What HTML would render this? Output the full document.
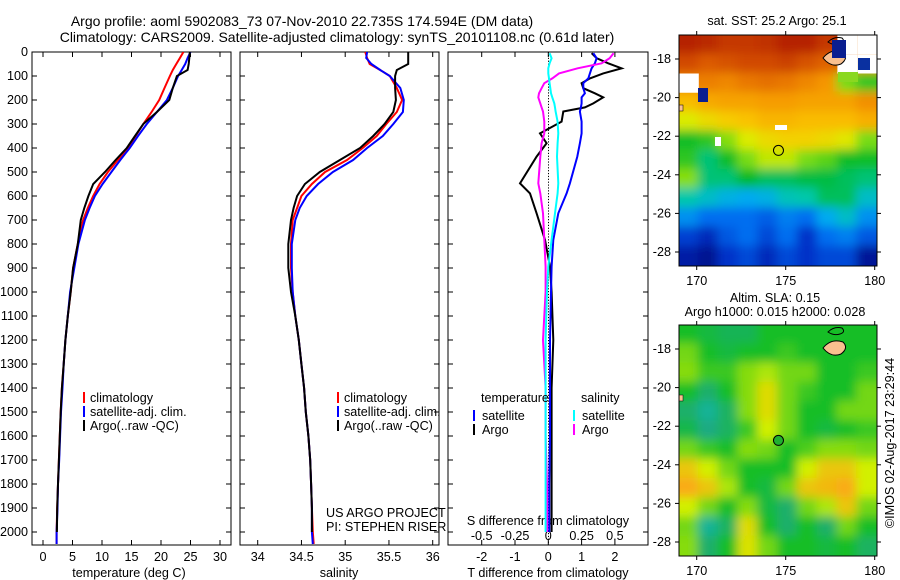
<!DOCTYPE html>
<html><head><meta charset="utf-8"><style>
html,body{margin:0;padding:0;background:#fff}
svg{display:block;font-family:"Liberation Sans",sans-serif;font-size:12.6px}
</style></head><body>
<svg id="chart" width="900" height="580" viewBox="0 0 900 580">
<defs>
<filter id="blur1" x="-0.1" y="-0.1" width="1.2" height="1.2"><feGaussianBlur stdDeviation="5"/></filter>
<clipPath id="clipM1"><rect x="679" y="35" width="198" height="231"/></clipPath>
<clipPath id="clipM2"><rect x="679" y="325" width="198" height="231"/></clipPath>
<clipPath id="clipP1"><rect x="32" y="52" width="199" height="493"/></clipPath>
<clipPath id="clipP2"><rect x="240" y="52" width="199" height="493"/></clipPath>
<clipPath id="clipP3"><rect x="448" y="52" width="200" height="493"/></clipPath>
</defs>
<text x="302" y="26" text-anchor="middle" style="font-size:14px">Argo profile: aoml 5902083_73 07-Nov-2010 22.735S 174.594E (DM data)</text>
<text x="337" y="42" text-anchor="middle" style="font-size:14px">Climatology: CARS2009. Satellite-adjusted climatology: synTS_20101108.nc (0.61d later)</text>
<g id="g"></g>
</svg>
<script>
// ---------- data ----------
const depthT = [0,25,50,75,100,150,200,250,300,350,400,450,500,550,600,650,700,800,900,1000,1100,1200,1300,1400,1500,1600,1700,1800,1900,2000,2050];
const tClim = [23.8,23.2,22.6,22.0,21.5,20.6,19.7,18.4,17.0,15.7,14.4,12.7,11.0,9.6,8.5,7.6,6.8,5.9,5.1,4.7,4.2,3.8,3.5,3.2,3.0,2.85,2.7,2.55,2.4,2.3,2.3];
const tSat = [25.0,24.5,24.1,23.5,22.9,22.0,21.0,19.3,17.6,16.1,14.7,13.1,11.6,10.1,8.8,7.9,7.1,6.0,5.3,4.6,4.2,3.8,3.5,3.3,3.05,2.9,2.75,2.55,2.45,2.3,2.3];
const tArgo = [24.9,24.8,24.7,24.5,22.7,22.0,21.4,19.3,17.0,15.6,14.2,12.3,10.5,8.5,7.7,7.0,6.4,5.9,5.1,4.7,4.2,3.8,3.5,3.2,3.0,2.85,2.7,2.55,2.4,2.35];
const sClim = [35.23,35.25,35.28,35.40,35.51,35.59,35.65,35.59,35.47,35.36,35.20,35.02,34.77,34.62,34.50,34.45,34.40,34.38,34.38,34.40,34.43,34.47,34.50,34.53,34.55,34.58,34.60,34.61,34.62,34.63,34.64];
const sSat = [35.25,35.24,35.30,35.40,35.51,35.63,35.67,35.66,35.55,35.43,35.25,35.09,34.86,34.69,34.56,34.48,34.43,34.39,34.39,34.40,34.43,34.47,34.50,34.53,34.55,34.58,34.60,34.61,34.62,34.62,34.63];
const sArgo = [35.72,35.72,35.72,35.59,35.57,35.57,35.58,35.55,35.45,35.32,35.17,34.94,34.71,34.54,34.45,34.41,34.38,34.35,34.35,34.38,34.43,34.47,34.50,34.53,34.55,34.58,34.60,34.61,34.62,34.62];
const depthD = [5,26,47,68,89,110,130,151,172,189,214,231,248,290,339,380,436,547,589,672,783,894,1000,1200,1400,1600,1800,2000];
const tdArgo = [1.30,1.45,1.80,2.20,1.65,1.25,1.00,1.05,1.40,1.65,1.35,1.10,0.45,0.40,-0.25,-0.05,-0.35,-0.85,-0.55,-0.35,-0.10,0.05,0.1,0.15,0.1,0.1,0.1,0.1];
const tdSat = [1.35,1.45,1.4,1.3,1.25,1.2,1.05,1.05,1.1,1.0,1.0,0.98,0.95,1.0,1.0,0.95,0.87,0.65,0.55,0.3,0.15,0.1,0.08,0.05,0.05,0.05,0.03,0.03];
const sdArgo = [0.49,0.46,0.40,0.22,0.08,0.03,-0.03,-0.05,-0.07,-0.075,-0.06,-0.05,-0.04,-0.03,-0.03,-0.05,-0.06,-0.075,-0.06,-0.04,-0.03,-0.02,-0.02,-0.04,-0.02,-0.02,-0.01,-0.01];
const sdSat = [0.01,0.025,0.01,0.0,0.0,0.005,0.01,0.015,0.02,0.03,0.045,0.05,0.055,0.07,0.075,0.07,0.065,0.075,0.07,0.05,0.025,0.0,-0.01,-0.02,-0.02,-0.02,-0.02,-0.02];
const depthTicks = [0,100,200,300,400,500,600,700,800,900,1000,1100,1200,1300,1400,1500,1600,1700,1800,1900,2000];
const tTicks = [0,5,10,15,20,25,30];
const sTicks = [34,34.5,35,35.5,36];
const tdTicks = [-2,-1,0,1,2];
const sdTicks = [-0.5,-0.25,0,0.25,0.5];
const sdTickLabels = ["-0.5","-0.25","0","0.25","0.5"];
const lonTicks = [170,175,180];
const latTicks = [-18,-20,-22,-24,-26,-28];
// SST field (0..1), rows lat -17..-28, cols lon 169.5..179.5; -1 = missing
const sstGrid = [
[0.93,0.92,0.9,0.9,0.91,0.93,0.93,0.9,-1,-1],
[0.88,0.86,0.87,0.88,0.88,0.89,0.87,0.85,-1,-1],
[-1,0.81,0.8,0.82,0.83,0.82,0.8,0.78,0.55,0.5],
[0.72,0.75,0.76,0.76,0.77,0.77,0.76,0.76,0.76,0.79],
[0.62,0.66,0.69,0.71,0.73,0.73,0.72,0.72,0.72,0.74],
[0.48,0.5,0.56,0.62,0.66,0.68,0.68,0.66,0.63,0.55],
[0.5,0.44,0.48,0.55,0.6,0.6,0.55,0.53,0.48,0.48],
[0.56,0.44,0.44,0.47,0.45,0.45,0.46,0.46,0.45,0.44],
[0.42,0.4,0.38,0.37,0.38,0.41,0.42,0.45,0.45,0.4],
[0.34,0.3,0.3,0.3,0.28,0.32,0.3,0.37,0.4,0.34],
[0.24,0.2,0.27,0.3,0.25,0.3,0.22,0.3,0.32,0.27],
[0.17,0.14,0.22,0.25,0.2,0.25,0.22,0.25,0.25,0.15]];
const slaGrid = [
[0.5,0.48,0.46,0.46,0.5,0.5,0.5,0.5,0.5,0.5],
[0.55,0.5,0.48,0.5,0.5,0.52,0.5,0.5,0.5,0.5],
[0.56,0.52,0.52,0.56,0.58,0.55,0.55,0.5,0.5,0.52],
[0.5,0.44,0.5,0.56,0.63,0.55,0.52,0.5,0.5,0.55],
[0.44,0.4,0.45,0.56,0.63,0.55,0.5,0.5,0.55,0.55],
[0.47,0.42,0.45,0.52,0.6,0.55,0.5,0.48,0.5,0.52],
[0.55,0.52,0.5,0.56,0.55,0.5,0.53,0.56,0.56,0.55],
[0.66,0.6,0.55,0.5,0.5,0.5,0.6,0.66,0.66,0.6],
[0.71,0.66,0.58,0.5,0.48,0.55,0.66,0.68,0.73,0.6],
[0.6,0.55,0.5,0.56,0.48,0.44,0.55,0.58,0.66,0.55],
[0.55,0.4,0.45,0.63,0.5,0.44,0.5,0.44,0.55,0.5],
[0.56,0.44,0.5,0.62,0.55,0.5,0.5,0.48,0.5,0.45]];

// ---------- helpers ----------
const NS="http://www.w3.org/2000/svg";
const G=document.getElementById('g');
function el(tag,attrs,parent){const e=document.createElementNS(NS,tag);for(const k in attrs)e.setAttribute(k,attrs[k]);(parent||G).appendChild(e);return e;}
const yD = d => 52 + d*0.24;
const xT = v => 43 + v*5.9;
const xS = v => 257.7 + (v-34)*87.5;
const xTD = v => 548.3 + v*33.3;
const xSD = v => 548.3 + v*133.2;

function panel(x0,x1,name){
  const r=el('rect',{x:x0,y:52,width:x1-x0,height:493,fill:'none',stroke:'#000','stroke-width':1});
  
  
  depthTicks.forEach(d=>{
    el('line',{x1:x0,x2:x0+5,y1:yD(d),y2:yD(d),stroke:'#000'});
    el('line',{x1:x1-5,x2:x1,y1:yD(d),y2:yD(d),stroke:'#000'});
  });
}
function line(xs,ys,xf,color,clip,name){
  let pts=[];for(let i=0;i<xs.length;i++)pts.push(xf(xs[i]).toFixed(1)+','+yD(ys[i]).toFixed(1));
  const p=el('polyline',{points:pts.join(' '),fill:'none',stroke:color,'stroke-width':2,'clip-path':'url(#'+clip+')'});
  
  
}
function txt(x,y,s,anchor,name,extra){
  const t=el('text',Object.assign({x:x,y:y,'text-anchor':anchor||'start'},extra||{}));t.textContent=s;
  
  
  return t;
}

// ---------- panel 1: temperature ----------
panel(32,231,'temperature-panel');
depthTicks.forEach(d=>txt(28,yD(d)+4,String(d),'end','y-tick-label'));
tTicks.forEach(v=>{el('line',{x1:xT(v),x2:xT(v),y1:545,y2:540,stroke:'#000'});el('line',{x1:xT(v),x2:xT(v),y1:52,y2:57,stroke:'#000'});txt(xT(v),561,String(v),'middle','t-tick-label');});
txt(129,577,'temperature (deg C)','middle','x-axis-title-temperature');
line(tClim,depthT,xT,'#f00','clipP1','temp-climatology-line');
line(tSat,depthT,xT,'#00f','clipP1','temp-satellite-line');
line(tArgo,depthT.slice(0,tArgo.length),xT,'#000','clipP1','temp-argo-line');
function legend3(x,name){
  const items=[['#f00','climatology'],['#00f','satellite-adj. clim.'],['#000','Argo(..raw -QC)']];
  items.forEach((it,i)=>{const y=398+i*14;el('rect',{x:x,y:y-6,width:2,height:11,fill:it[0]});txt(x+7,y+4,it[1],'start',name+'-entry');});
}
legend3(83,'temp-legend');

// ---------- panel 2: salinity ----------
panel(240,439,'salinity-panel');
sTicks.forEach(v=>{el('line',{x1:xS(v),x2:xS(v),y1:545,y2:540,stroke:'#000'});el('line',{x1:xS(v),x2:xS(v),y1:52,y2:57,stroke:'#000'});txt(xS(v),561,String(v),'middle','s-tick-label');});
txt(339,577,'salinity','middle','x-axis-title-salinity');
line(sClim,depthT,xS,'#f00','clipP2','sal-climatology-line');
line(sSat,depthT,xS,'#00f','clipP2','sal-satellite-line');
line(sArgo,depthT.slice(0,sArgo.length),xS,'#000','clipP2','sal-argo-line');
legend3(337,'sal-legend');
txt(326,517,'US ARGO PROJECT','start','project-label');
txt(326,531,'PI: STEPHEN RISER','start','pi-label');

// ---------- panel 3: differences ----------
panel(448,648,'difference-panel');
for(let d=0;d<=2050;d+=12){el('rect',{x:548,y:yD(d),width:1,height:1.2,fill:'#000'});}
tdTicks.forEach(v=>{el('line',{x1:xTD(v),x2:xTD(v),y1:545,y2:540,stroke:'#000'});el('line',{x1:xTD(v),x2:xTD(v),y1:52,y2:57,stroke:'#000'});txt(xTD(v),561,String(v),'middle','td-tick-label');});
sdTicks.forEach((v,i)=>txt(xSD(v),540,sdTickLabels[i],'middle','sd-tick-label'));
txt(548,525,'S difference from climatology','middle','s-diff-axis-title');
txt(548,577,'T difference from climatology','middle','t-diff-axis-title');
line(tdArgo,depthD,xTD,'#000','clipP3','tdiff-argo-line');
line(tdSat,depthD,xTD,'#00f','clipP3','tdiff-satellite-line');
line(sdArgo,depthD,xSD,'#f0f','clipP3','sdiff-argo-line');
line(sdSat,depthD,xSD,'#0ff','clipP3','sdiff-satellite-line');
txt(481,402,'temperature','start','legend-temperature-heading');
txt(581,402,'salinity','start','legend-salinity-heading');
[['#00f','satellite',473],['#000','Argo',473],['#0ff','satellite',573],['#f0f','Argo',573]].forEach((it,i)=>{
  const y=416+(i%2)*14;el('rect',{x:it[2],y:y-6,width:2,height:11,fill:it[0]});txt(it[2]+9,y+4,it[1],'start','diff-legend-entry');});

// ---------- maps ----------
function ramp(stops,v){
  if(v<=stops[0][0])return 'rgb('+stops[0][1]+')';
  for(let i=1;i<stops.length;i++){if(v<=stops[i][0]){const a=stops[i-1],b=stops[i],t=(v-a[0])/(b[0]-a[0]);return 'rgb('+a[1].map((q,k)=>Math.round(q+(b[1][k]-q)*t)).join(',')+')';}}
  return 'rgb('+stops[stops.length-1][1]+')';
}
const sstStops=[[0.12,[0,10,130]],[0.22,[0,50,200]],[0.3,[0,110,240]],[0.37,[0,170,240]],[0.42,[0,200,170]],[0.47,[0,185,40]],[0.55,[120,220,20]],[0.62,[220,235,0]],[0.7,[250,200,0]],[0.78,[245,150,0]],[0.86,[220,90,0]],[0.94,[175,25,0]]];
const slaStops=[[0.35,[0,200,200]],[0.42,[30,170,130]],[0.5,[20,190,40]],[0.6,[210,240,0]],[0.7,[250,170,20]]];
const sstCol=v=>ramp(sstStops,v), slaCol=v=>ramp(slaStops,v);
const mapX = lon => 696.7 + (lon-170)*17.8;
function map(y0,grid,colf,clip,name){
  const grp=el('g',{'clip-path':'url(#'+clip+')'});
  
  
  const inner=el('g',{filter:'url(#blur1)'},grp);
  const mY = lat => y0 + 24 + (-18-lat)*19.3;
  const cw=198/10, ch=231/12;
  const cols=grid[0].length, rows=grid.length;
  // fill missing with neighbour for blur, then overlay white
  grid.forEach((row,r)=>row.forEach((v,c)=>{
    let vv=v; if(vv<0){vv=(row[c-1]>=0?row[c-1]:(row[c+1]>=0?row[c+1]:0.8));}
    const x=679+c*cw-(c===0?15:1), y=y0+r*ch-(r===0?15:1);
    const w=cw+2+(c===0?14:0)+(c===cols-1?15:0), h=ch+2+(r===0?14:0)+(r===rows-1?15:0);
    const cell=el('rect',{x:x,y:y,width:w,height:h,fill:colf(vv)},inner);
    
    
  }));
  grid.forEach((row,r)=>row.forEach((v,c)=>{ if(v<0){
    const m=el('rect',{x:679+c*cw,y:y0+r*ch,width:cw,height:ch,fill:'#fff'},grp);
    
    
  }}));
  el('path',{d:'M823,58 q8,-10 20,-6 q6,6 -2,12 q-10,4 -18,-6z',fill:'#f9c08f',stroke:'#000','stroke-width':1,transform:'translate(0,'+(y0-35)+')'},grp);
  el('path',{d:'M828,42 q6,-6 14,-4 q4,4 -2,6 q-6,2 -12,-2z',fill:'none',stroke:'#000','stroke-width':1,transform:'translate(0,'+(y0-35)+')'},grp);
  el('rect',{x:679,y:y0+105-35,width:4,height:6,fill:'#f9c08f',stroke:'#000','stroke-width':0.5},grp);
  const fr=el('rect',{x:679,y:y0,width:198,height:231,fill:'none',stroke:'#000'});
  
  
  lonTicks.forEach(l=>{el('line',{x1:mapX(l),x2:mapX(l),y1:y0,y2:y0-4,stroke:'#000'});el('line',{x1:mapX(l),x2:mapX(l),y1:y0+231,y2:y0+235,stroke:'#000'});txt(mapX(l),y0+250,String(l),'middle','lon-tick-label');});
  latTicks.forEach(l=>{el('line',{x1:675,x2:679,y1:mY(l),y2:mY(l),stroke:'#000'});el('line',{x1:877,x2:881,y1:mY(l),y2:mY(l),stroke:'#000'});txt(671,mY(l)+4,String(l),'end','lat-tick-label');});
  return mY;
}
const mY1=map(35,sstGrid,sstCol,'clipM1','sst-map');
el('rect',{x:832,y:40,width:14,height:18,fill:'#0a1e90'});
el('rect',{x:858,y:58,width:12,height:12,fill:'#0a30a0'});
el('rect',{x:838,y:72,width:20,height:10,fill:'#8ad820'});
el('rect',{x:698,y:88,width:10,height:14,fill:'#0a1e90'});
el('rect',{x:775,y:125,width:12,height:5,fill:'#fff'});
el('rect',{x:715,y:137,width:6,height:9,fill:'#fff'});
const c1=el('circle',{cx:mapX(174.594),cy:mY1(-22.735),r:5,fill:'none',stroke:'#000','stroke-width':1});


txt(777,25,'sat. SST: 25.2  Argo: 25.1','middle','sst-map-title');
const mY2=map(325,slaGrid,slaCol,'clipM2','sla-map');
const c2=el('circle',{cx:mapX(174.594),cy:mY2(-22.735),r:5,fill:'#20b030',stroke:'#000','stroke-width':1});


txt(775,302,'Altim. SLA: 0.15','middle','sla-map-title');
txt(775,316,'Argo h1000: 0.015 h2000: 0.028','middle','sla-map-subtitle');
txt(0,0,'\u00a9IMOS 02-Aug-2017 23:29:44','middle','timestamp-label',{transform:'translate(894,443) rotate(-90)'});
</script>
</body></html>
